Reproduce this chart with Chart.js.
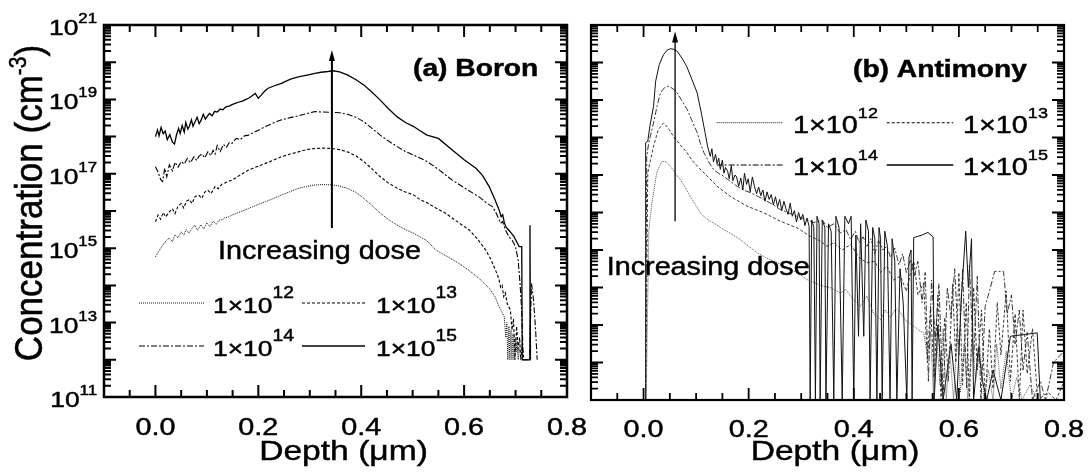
<!DOCTYPE html>
<html><head><meta charset="utf-8">
<script src="https://cdn.jsdelivr.net/npm/chart.js@4.4.1/dist/chart.umd.min.js"></script>
<style>
html,body{margin:0;padding:0;background:#fff;width:1088px;height:473px;overflow:hidden;}
canvas{position:absolute;top:0;}
#cA{left:0;} #cB{left:580px;}
</style></head><body>
<canvas id="cA" width="600" height="473"></canvas>
<canvas id="cB" width="508" height="473"></canvas>
<script>
// ---- tick labels / legend labels ----
const xTickValues = [0.0, 0.2, 0.4, 0.6, 0.8];
const xTickLabels = ['0.0', '0.2', '0.4', '0.6', '0.8'];
const yTickExps = [21, 19, 17, 15, 13, 11];
const doseExps = [12, 13, 14, 15];

// ---- data: [depth (um), log10(concentration cm^-3)] ----
const boron1e12 = [[0.000,14.77],[0.008,14.95],[0.015,15.10],[0.022,15.22],[0.027,15.27],[0.033,15.18],[0.038,15.36],[0.044,15.28],[0.050,15.44],[0.055,15.35],[0.060,15.50],[0.065,15.40],[0.071,15.53],[0.076,15.62],[0.082,15.48],[0.088,15.63],[0.094,15.52],[0.100,15.68],[0.106,15.58],[0.112,15.73],[0.118,15.64],[0.124,15.76],[0.129,15.76],[0.135,15.82],[0.142,15.84],[0.149,15.89],[0.165,15.98],[0.181,16.07],[0.197,16.16],[0.214,16.25],[0.230,16.34],[0.245,16.43],[0.262,16.52],[0.278,16.61],[0.294,16.66],[0.310,16.70],[0.327,16.71],[0.343,16.70],[0.358,16.67],[0.373,16.61],[0.390,16.50],[0.405,16.34],[0.421,16.15],[0.437,15.94],[0.453,15.77],[0.470,15.62],[0.486,15.50],[0.502,15.40],[0.515,15.30],[0.528,15.20],[0.545,14.95],[0.567,14.78],[0.590,14.59],[0.610,14.40],[0.629,14.19],[0.649,13.92],[0.660,13.70],[0.668,13.43],[0.673,13.30],[0.678,13.16],[0.681,12.60],[0.683,13.00],[0.685,12.00],[0.687,12.90],[0.689,12.00],[0.691,12.80],[0.693,12.00],[0.695,12.70],[0.697,12.00],[0.699,12.60],[0.701,12.20],[0.703,12.50],[0.705,12.00],[0.708,12.30]];
const boron1e13 = [[0.000,15.71],[0.005,15.89],[0.010,15.78],[0.015,15.96],[0.020,15.84],[0.027,15.98],[0.033,16.06],[0.038,15.93],[0.044,16.13],[0.050,16.20],[0.055,16.08],[0.060,16.26],[0.066,16.31],[0.071,16.20],[0.077,16.39],[0.084,16.43],[0.090,16.34],[0.096,16.51],[0.102,16.56],[0.108,16.47],[0.116,16.66],[0.122,16.60],[0.129,16.72],[0.135,16.75],[0.142,16.80],[0.149,16.83],[0.165,16.97],[0.181,17.10],[0.197,17.19],[0.214,17.28],[0.230,17.37],[0.245,17.46],[0.262,17.53],[0.278,17.59],[0.294,17.65],[0.310,17.68],[0.327,17.69],[0.343,17.68],[0.358,17.65],[0.373,17.59],[0.390,17.48],[0.405,17.33],[0.421,17.13],[0.437,16.92],[0.453,16.75],[0.470,16.61],[0.486,16.51],[0.502,16.43],[0.515,16.30],[0.528,16.22],[0.545,16.08],[0.564,15.94],[0.588,15.70],[0.610,15.49],[0.626,15.25],[0.642,14.95],[0.652,14.70],[0.661,14.41],[0.667,14.20],[0.671,13.95],[0.674,14.00],[0.677,13.70],[0.680,13.80],[0.684,13.50],[0.690,13.34],[0.693,12.80],[0.696,13.10],[0.699,12.00],[0.702,12.90],[0.705,12.30],[0.708,12.60],[0.710,12.00],[0.713,12.40],[0.716,12.00]];
const boron1e14 = [[0.000,17.19],[0.005,17.05],[0.010,16.85],[0.014,16.79],[0.018,17.15],[0.022,16.92],[0.027,17.24],[0.033,17.08],[0.038,17.31],[0.044,17.18],[0.050,17.33],[0.056,17.26],[0.062,17.41],[0.068,17.30],[0.075,17.46],[0.080,17.36],[0.084,17.46],[0.090,17.53],[0.096,17.43],[0.102,17.59],[0.108,17.49],[0.112,17.63],[0.116,17.53],[0.120,17.76],[0.126,17.60],[0.132,17.79],[0.138,17.71],[0.144,17.85],[0.149,17.82],[0.157,17.95],[0.165,17.92],[0.173,18.02],[0.181,18.04],[0.197,18.15],[0.214,18.27],[0.230,18.37],[0.245,18.45],[0.262,18.51],[0.278,18.56],[0.294,18.62],[0.310,18.67],[0.327,18.66],[0.343,18.65],[0.358,18.64],[0.373,18.60],[0.390,18.52],[0.405,18.40],[0.421,18.22],[0.437,18.04],[0.453,17.88],[0.470,17.73],[0.486,17.60],[0.502,17.50],[0.515,17.42],[0.528,17.33],[0.550,17.12],[0.577,16.83],[0.603,16.60],[0.629,16.38],[0.645,16.20],[0.655,16.12],[0.662,15.95],[0.667,15.80],[0.671,15.67],[0.675,15.72],[0.680,15.50],[0.687,15.31],[0.694,15.20],[0.700,15.04],[0.705,14.68],[0.709,14.00],[0.712,13.30],[0.715,12.00],[0.722,12.00],[0.727,12.00],[0.731,14.06],[0.735,13.60],[0.739,12.80],[0.742,12.00]];
const boron1e15 = [[0.000,18.00],[0.004,18.18],[0.007,18.02],[0.011,18.25],[0.015,18.08],[0.019,18.15],[0.023,17.92],[0.028,18.05],[0.033,17.85],[0.037,17.80],[0.041,18.05],[0.045,18.22],[0.048,18.08],[0.052,18.30],[0.056,18.12],[0.059,18.38],[0.063,18.20],[0.066,18.28],[0.070,18.45],[0.073,18.28],[0.077,18.40],[0.081,18.52],[0.085,18.35],[0.089,18.45],[0.093,18.60],[0.097,18.47],[0.101,18.55],[0.105,18.62],[0.110,18.56],[0.115,18.68],[0.120,18.66],[0.126,18.74],[0.131,18.72],[0.137,18.80],[0.143,18.82],[0.149,18.86],[0.156,18.90],[0.163,18.93],[0.170,18.96],[0.176,19.00],[0.181,19.03],[0.188,19.10],[0.194,19.16],[0.200,19.03],[0.206,19.12],[0.212,19.22],[0.219,19.30],[0.230,19.36],[0.245,19.43],[0.255,19.50],[0.264,19.55],[0.280,19.61],[0.297,19.66],[0.310,19.70],[0.322,19.73],[0.335,19.75],[0.345,19.77],[0.358,19.74],[0.373,19.66],[0.390,19.53],[0.405,19.39],[0.421,19.19],[0.437,18.98],[0.453,18.75],[0.470,18.53],[0.486,18.38],[0.502,18.27],[0.515,18.15],[0.528,18.04],[0.550,17.95],[0.577,17.64],[0.600,17.38],[0.623,17.15],[0.636,16.95],[0.649,16.65],[0.660,16.30],[0.668,16.03],[0.672,15.85],[0.675,15.90],[0.678,15.70],[0.681,15.58],[0.689,15.45],[0.697,15.31],[0.707,15.04],[0.712,15.04],[0.713,12.00],[0.727,12.00],[0.728,15.62],[0.729,12.00]];

const antimony1e12 = [[0.000,11.0],[0.005,11.0],[0.010,15.50],[0.015,16.17],[0.025,17.06],[0.035,17.37],[0.043,17.35],[0.051,17.24],[0.060,17.05],[0.070,16.88],[0.080,16.65],[0.089,16.43],[0.099,16.20],[0.108,15.99],[0.118,15.85],[0.127,15.77],[0.140,15.66],[0.152,15.55],[0.168,15.42],[0.184,15.28],[0.200,15.10],[0.216,14.93],[0.232,14.80],[0.248,14.70],[0.264,14.60],[0.279,14.48],[0.295,14.38],[0.311,14.21],[0.327,14.12],[0.343,14.03],[0.355,14.00],[0.362,13.95],[0.375,13.85],[0.385,13.95],[0.394,13.77],[0.405,13.60],[0.413,13.50],[0.425,13.77],[0.438,13.30],[0.451,13.15],[0.460,13.40],[0.470,13.20],[0.480,13.45],[0.489,13.33],[0.500,13.10],[0.514,12.97],[0.525,12.85],[0.533,12.79],[0.540,12.20],[0.546,12.80],[0.552,11.0],[0.558,12.60],[0.564,11.40],[0.570,12.90],[0.576,11.0],[0.582,12.40],[0.590,11.0],[0.597,12.80],[0.603,11.20],[0.610,12.50],[0.617,11.0],[0.625,12.60],[0.632,11.50],[0.640,12.40],[0.648,11.0],[0.656,11.80],[0.665,11.0],[0.672,12.50],[0.680,11.30],[0.690,12.30],[0.700,11.0],[0.710,11.60],[0.720,11.0],[0.735,11.40],[0.750,11.0],[0.800,11.0]];
const antimony1e13 = [[0.000,11.0],[0.004,11.0],[0.008,17.06],[0.019,17.77],[0.028,18.21],[0.038,18.39],[0.047,18.25],[0.057,18.03],[0.070,17.80],[0.083,17.59],[0.092,17.40],[0.102,17.24],[0.121,16.97],[0.140,16.70],[0.165,16.43],[0.197,16.17],[0.229,15.99],[0.260,15.77],[0.292,15.59],[0.317,15.37],[0.335,15.25],[0.349,15.10],[0.362,15.19],[0.378,15.00],[0.394,15.15],[0.410,14.80],[0.425,14.66],[0.440,14.70],[0.451,14.40],[0.463,14.57],[0.475,14.20],[0.489,14.30],[0.500,13.90],[0.514,14.75],[0.522,13.80],[0.533,14.12],[0.540,12.00],[0.546,13.50],[0.553,11.60],[0.560,13.80],[0.566,11.0],[0.573,13.20],[0.580,11.50],[0.588,14.10],[0.594,12.00],[0.600,14.40],[0.607,11.40],[0.614,13.60],[0.620,11.0],[0.628,14.00],[0.635,11.80],[0.643,13.40],[0.650,11.0],[0.658,12.90],[0.665,11.30],[0.673,13.60],[0.680,12.20],[0.690,13.90],[0.698,11.50],[0.707,13.30],[0.715,11.0],[0.722,13.40],[0.730,11.70],[0.740,12.90],[0.750,11.0],[0.770,11.20],[0.785,11.0],[0.800,11.50]];
const antimony1e14 = [[0.000,11.0],[0.004,11.0],[0.006,17.50],[0.010,17.86],[0.019,18.39],[0.026,18.85],[0.032,19.19],[0.040,19.33],[0.048,19.37],[0.056,19.30],[0.064,19.19],[0.073,18.98],[0.083,18.75],[0.092,18.45],[0.102,18.13],[0.108,17.85],[0.115,17.59],[0.124,17.35],[0.133,17.15],[0.142,17.05],[0.152,16.97],[0.165,16.83],[0.178,16.70],[0.190,16.60],[0.203,16.53],[0.216,16.44],[0.229,16.35],[0.245,16.22],[0.260,16.08],[0.276,15.99],[0.292,15.90],[0.308,15.82],[0.324,15.73],[0.340,15.80],[0.350,15.60],[0.362,15.70],[0.375,15.45],[0.385,15.55],[0.394,15.28],[0.403,15.50],[0.410,15.20],[0.418,15.35],[0.425,15.10],[0.433,15.30],[0.440,14.90],[0.447,15.25],[0.455,15.00],[0.463,15.10],[0.470,14.80],[0.478,15.05],[0.486,14.60],[0.493,14.90],[0.500,14.40],[0.508,14.75],[0.515,14.30],[0.522,14.70],[0.530,13.60],[0.536,14.40],[0.542,11.50],[0.548,14.20],[0.555,12.60],[0.562,14.10],[0.570,11.0],[0.578,14.00],[0.585,13.20],[0.592,14.50],[0.600,12.20],[0.607,14.50],[0.615,11.30],[0.620,14.60],[0.628,12.00],[0.635,14.30],[0.642,11.0],[0.650,13.50],[0.660,14.00],[0.668,14.43],[0.685,14.43],[0.692,13.30],[0.700,13.80],[0.707,12.50],[0.715,13.40],[0.722,11.80],[0.730,12.80],[0.740,11.0],[0.755,11.50],[0.765,11.0],[0.780,12.00],[0.800,12.30]];
const antimony1e15 = [[0.000,11.0],[0.003,11.0],[0.004,17.86],[0.008,17.90],[0.012,18.30],[0.019,18.83],[0.023,19.50],[0.030,19.95],[0.038,20.21],[0.045,20.33],[0.051,20.37],[0.058,20.35],[0.064,20.30],[0.073,20.12],[0.082,19.90],[0.092,19.55],[0.102,19.19],[0.110,18.65],[0.117,18.13],[0.122,17.75],[0.127,17.50],[0.130,17.70],[0.133,17.35],[0.137,17.55],[0.140,17.30],[0.143,17.45],[0.146,17.15],[0.150,17.40],[0.153,17.05],[0.156,17.20],[0.160,17.10],[0.163,16.90],[0.167,17.25],[0.170,16.85],[0.174,17.00],[0.177,16.95],[0.181,16.70],[0.185,16.92],[0.189,16.60],[0.192,17.05],[0.196,16.75],[0.199,16.90],[0.203,16.55],[0.207,16.95],[0.211,16.70],[0.215,16.50],[0.219,16.68],[0.223,16.45],[0.227,16.60],[0.231,16.30],[0.235,16.55],[0.239,16.35],[0.243,16.48],[0.247,16.20],[0.251,16.42],[0.255,16.15],[0.259,16.35],[0.263,16.05],[0.267,16.30],[0.271,16.10],[0.275,15.95],[0.279,16.25],[0.283,15.90],[0.287,16.05],[0.291,15.75],[0.295,16.00],[0.299,15.80],[0.303,15.95],[0.307,15.65],[0.311,15.85],[0.315,15.63],[0.317,11.0],[0.320,15.80],[0.324,15.60],[0.327,11.0],[0.330,15.90],[0.334,15.70],[0.336,11.0],[0.340,15.80],[0.345,15.60],[0.347,11.0],[0.352,15.70],[0.357,15.50],[0.362,11.0],[0.366,15.90],[0.372,15.60],[0.378,11.0],[0.383,15.90],[0.390,15.70],[0.395,15.90],[0.400,11.0],[0.404,15.40],[0.409,12.70],[0.413,15.70],[0.419,12.70],[0.423,15.80],[0.428,15.50],[0.431,11.0],[0.436,15.60],[0.440,15.30],[0.444,11.0],[0.448,15.60],[0.451,15.30],[0.454,11.0],[0.459,15.50],[0.464,15.10],[0.469,11.0],[0.473,15.30],[0.478,14.70],[0.482,11.0],[0.488,14.50],[0.494,13.60],[0.501,11.0],[0.505,14.80],[0.509,15.00],[0.511,11.0],[0.514,15.33],[0.530,15.40],[0.541,15.47],[0.551,15.35],[0.553,11.0],[0.560,13.00],[0.570,11.0],[0.585,12.50],[0.596,11.0],[0.605,13.80],[0.613,15.50],[0.618,14.00],[0.624,15.30],[0.628,11.0],[0.637,12.40],[0.645,11.50],[0.653,11.0],[0.665,11.80],[0.680,11.0],[0.698,12.70],[0.749,12.79],[0.755,11.0],[0.780,11.0],[0.800,11.0]];

// "Increasing dose" arrows: depth, log10 start, log10 tip
const arrowBoron = [0.343, 15.54, 20.33];
const arrowAntimony = [0.060, 15.77, 20.83];

const FONT = '"Liberation Sans", Arial, Helvetica, sans-serif';
const SX = 1.2;

function sText(ctx, str, x, y, font, align, sx) {
  ctx.save(); ctx.font = font; ctx.textAlign = align || 'left'; ctx.textBaseline = 'alphabetic';
  ctx.fillStyle = '#000'; ctx.strokeStyle = '#000'; ctx.lineWidth = 0.45; ctx.setLineDash([]);
  ctx.translate(x, y); ctx.scale(sx, 1); ctx.fillText(str, 0, 0); ctx.strokeText(str, 0, 0); ctx.restore();
}
function measure(ctx, str, font, sx) { ctx.save(); ctx.font = font; const w = ctx.measureText(str).width * sx; ctx.restore(); return w; }
function supText(ctx, base, sup, x, y, f1, f2, rise, sx, align) {
  const w1 = measure(ctx, base, f1, sx), w2 = measure(ctx, sup, f2, sx);
  let x0 = x;
  if (align === 'right') x0 = x - w1 - w2; else if (align === 'center') x0 = x - (w1 + w2) / 2;
  sText(ctx, base, x0, y, f1, 'left', sx);
  sText(ctx, sup, x0 + w1, y - rise, f2, 'left', sx);
}

const lineStyles = {
  left: [
    {c:'#111', w:1.0, d:[1,1]},
    {c:'#000', w:1.1, d:[3,2]},
    {c:'#000', w:1.1, d:[6,2,2,2]},
    {c:'#000', w:1.3, d:[]}
  ],
  right: [
    {c:'#444', w:0.9, d:[1,1]},
    {c:'#222', w:0.9, d:[3,2]},
    {c:'#222', w:0.9, d:[6,2,2,2]},
    {c:'#111', w:1.0, d:[]}
  ]
};

function ds(arr, s) {
  return { data: arr.map(p => ({x: p[0], y: Math.pow(10, p[1])})), borderColor: s.c, borderWidth: s.w,
    borderDash: s.d, pointRadius: 0, fill: false, tension: 0, borderCapStyle: 'butt' };
}

function panelPlugin(cfg) {
  return {
    id: 'panel',
    afterDraw(chart) {
      const {ctx, chartArea: a} = chart;
      const x = chart.scales.x, y = chart.scales.y;
      ctx.save();
      // arrow
      const ar = cfg.arrow;
      const ax = x.getPixelForValue(ar[0]);
      const ay0 = y.getPixelForValue(Math.pow(10, ar[1])), ay1 = y.getPixelForValue(Math.pow(10, ar[2]));
      ctx.strokeStyle = '#000'; ctx.fillStyle = '#000'; ctx.lineWidth = cfg.arrowW; ctx.setLineDash([]);
      ctx.beginPath(); ctx.moveTo(ax, ay0); ctx.lineTo(ax, ay1 + 8); ctx.stroke();
      ctx.beginPath(); ctx.moveTo(ax, ay1); ctx.lineTo(ax - 3, ay1 + 11); ctx.lineTo(ax + 3, ay1 + 11); ctx.closePath(); ctx.fill();

      // ticks
      ctx.lineWidth = cfg.tickW; ctx.beginPath();
      for (let i = -2; i <= 16; i++) {
        const px = x.getPixelForValue(i * 0.05);
        const len = (i % 4 === 0) ? cfg.major : cfg.minor;
        ctx.moveTo(px, a.bottom); ctx.lineTo(px, a.bottom - len);
        ctx.moveTo(px, a.top); ctx.lineTo(px, a.top + len);
      }
      for (let d = 11; d <= 21; d++) {
        const kmax = d < 21 ? 9 : 1;
        for (let k = 1; k <= kmax; k++) {
          const py = y.getPixelForValue(k * Math.pow(10, d));
          const len = k === 1 ? cfg.major : cfg.minor;
          ctx.moveTo(a.left, py); ctx.lineTo(a.left + len, py);
          ctx.moveTo(a.right, py); ctx.lineTo(a.right - len, py);
        }
      }
      ctx.stroke();
      ctx.lineWidth = cfg.frameW;
      ctx.strokeRect(a.left, a.top, a.right - a.left, a.bottom - a.top);
      ctx.restore();

      // x tick labels
      xTickValues.forEach((v, i) => {
        sText(ctx, xTickLabels[i], x.getPixelForValue(v), cfg.xLabY, '24px ' + FONT, 'center', SX);
      });
      // x title
      sText(ctx, 'Depth (\u03bcm)', cfg.xTitleX, 460, '28px ' + FONT, 'center', SX);

      // y labels / title
      if (cfg.yLabels) {
        yTickExps.forEach(e => {
          const py = y.getPixelForValue(Math.pow(10, e));
          supText(ctx, '10', String(e), 97, py + 10, '22px ' + FONT, '14px ' + FONT, 12, SX, 'right');
        });
        // rotated title
        ctx.save();
        ctx.fillStyle = '#000'; ctx.strokeStyle = '#000'; ctx.lineWidth = 0.5;
        ctx.translate(42, 203); ctx.scale(1.1, 1); ctx.rotate(-Math.PI / 2);
        const f1 = '35px ' + FONT, f2 = '21px ' + FONT;
        ctx.font = f1; const w1 = ctx.measureText('Concentration (cm').width; const w3 = ctx.measureText(')').width;
        ctx.font = f2; const w2 = ctx.measureText('-3').width;
        const u0 = -(w1 + w2 + w3) / 2;
        ctx.textBaseline = 'alphabetic'; ctx.textAlign = 'left';
        ctx.font = f1; ctx.fillText('Concentration (cm', u0, 0); ctx.strokeText('Concentration (cm', u0, 0);
        ctx.font = f2; ctx.fillText('-3', u0 + w1, -15); ctx.strokeText('-3', u0 + w1, -15);
        ctx.font = f1; ctx.fillText(')', u0 + w1 + w2, 0); ctx.strokeText(')', u0 + w1 + w2, 0);
        ctx.restore();
      }

      // panel label
      sText(ctx, cfg.title, cfg.titleX, cfg.titleY, 'bold 23.5px ' + FONT, 'left', SX);
      // increasing dose
      sText(ctx, 'Increasing dose', cfg.incX, cfg.incY, '25px ' + FONT, 'left', 1.15);

      // legend
      const L = cfg.legend;
      const styles = cfg.styles;
      doseExps.forEach((e, i) => {
        const row = Math.floor(i / 2), col = i % 2;
        const ly = L.rows[row];
        const [s0, s1] = L.samples[col];
        const st = styles[i];
        ctx.save();
        ctx.strokeStyle = st.c; ctx.lineWidth = st.w; ctx.setLineDash(st.d);
        ctx.beginPath(); ctx.moveTo(s0, ly); ctx.lineTo(s1, ly); ctx.stroke();
        ctx.restore();
        supText(ctx, '1\u00d710', String(e), L.labels[col], ly + 10, L.f1 + 'px ' + FONT, L.f2 + 'px ' + FONT, 15, SX, 'left');
      });
    }
  };
}

function makeChart(id, series, styles, padding, cfg) {
  return new Chart(document.getElementById(id), {
    type: 'line',
    data: { datasets: series.map((s, i) => ds(s, styles[i])) },
    options: {
      responsive: false, animation: false, devicePixelRatio: 1,
      layout: { padding },
      scales: {
        x: { type: 'linear', min: -0.1, max: 0.8, display: false },
        y: { type: 'logarithmic', min: 1e11, max: 1e21, display: false }
      },
      plugins: { legend: { display: false }, tooltip: { enabled: false } }
    },
    plugins: [panelPlugin(cfg)]
  });
}

makeChart('cA', [boron1e12, boron1e13, boron1e14, boron1e15], lineStyles.left,
  {left: 104, right: 33, top: 25, bottom: 76},
  { arrow: arrowBoron, arrowW: 2, tickW: 2, frameW: 2.5, major: 12, minor: 7, xLabY: 435, xTitleX: 343.5,
    yLabels: true, title: '(a) Boron', titleX: 413, titleY: 76, incX: 218, incY: 259, styles: lineStyles.left,
    legend: { rows: [303, 346], samples: [[139, 204], [302, 365]], labels: [213, 376], f1: 22, f2: 16 } });

makeChart('cB', [antimony1e12, antimony1e13, antimony1e14, antimony1e15], lineStyles.right,
  {left: 11, right: 24, top: 25, bottom: 73},
  { arrow: arrowAntimony, arrowW: 1.3, tickW: 1.8, frameW: 2.2, major: 12, minor: 7, xLabY: 437, xTitleX: 255,
    yLabels: false, title: '(b) Antimony', titleX: 273, titleY: 77, incX: 26.7, incY: 275, styles: lineStyles.left,
    legend: { rows: [122.7, 165], samples: [[136.7, 203], [306.7, 373.3]], labels: [213, 383], f1: 24, f2: 15 } });
</script>
</body></html>
